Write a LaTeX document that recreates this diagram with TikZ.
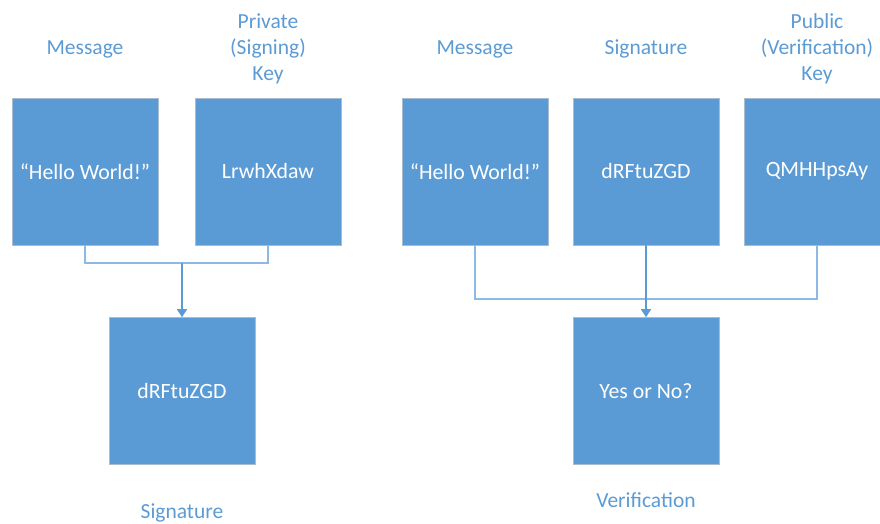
\documentclass[tikz,border=0pt]{standalone}
\usepackage{fontspec}
\setmainfont{Carlito}
\usetikzlibrary{arrows.meta}
\definecolor{boxblue}{HTML}{5B9BD5}
\definecolor{lineblue}{HTML}{8DB9E2}
\definecolor{edgegray}{HTML}{A9BCCF}
\begin{document}
\begin{tikzpicture}[x=1pt,y=-1pt,
  blockbox/.style={fill=boxblue,draw=edgegray,line width=0.6pt,minimum width=146pt,minimum height=147pt,inner sep=0pt,text=white,font=\fontsize{21.8}{26}\selectfont},
  caption/.style={text=boxblue,align=center,font=\fontsize{21.5}{26}\selectfont},
  bracketline/.style={draw=lineblue,line width=1.4pt},
  arrowline/.style={draw=boxblue,line width=1.6pt,-{Triangle[width=10pt,length=8pt]}}]
\useasboundingbox (0,0) rectangle (880,523);
\begin{scope}
\clip (0,0) rectangle (880,523);
% left side
\node[blockbox] (b1) at (85,171.5) {“Hello World!”};
\node[blockbox] (b2) at (268,171.5) {LrwhXdaw};
\node[blockbox] (b3) at (182,391) {dRFtuZGD};
% right side
\node[blockbox] (b4) at (475,171.5) {“Hello World!”};
\node[blockbox] (b5) at (646,171.5) {dRFtuZGD};
\node[blockbox] (b6) at (817,171.5) {QMHHpsAy};
\node[blockbox] (b7) at (646,391) {Yes or No?};
\end{scope}
% captions
\node[caption] (c1) at (85,49) {Message};
\node[caption] (c2) at (268,49) {Private\\(Signing)\\Key};
\node[caption] (c3) at (475,49) {Message};
\node[caption] (c4) at (646,49) {Signature};
\node[caption] (c5) at (817,49) {Public\\(Verification)\\Key};
\node[caption] (c6) at (182,513) {Signature};
\node[caption] (c7) at (646,500) {Verification};
% connectors
\coordinate (jL) at (182,263);
\coordinate (jR) at (646,299);
\draw[bracketline] (b1.south) |- (jL) -| (b2.south);
\draw[arrowline] (jL) -- (b3.north);
\draw[bracketline] (b4.south) |- (jR) -| (b6.south);
\draw[arrowline] (b5.south) -- (b7.north);
\end{tikzpicture}
\end{document}
